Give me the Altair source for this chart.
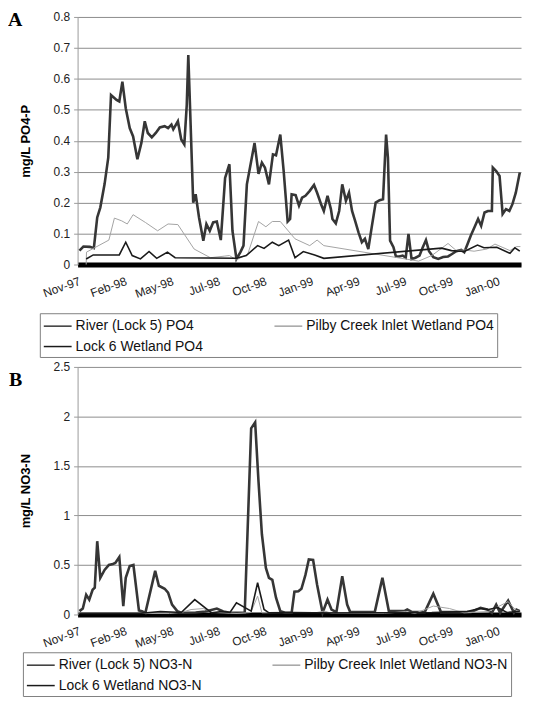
import json
import altair as alt
import pandas as pd

# ---- axis categories (sample positions; a label every ~15.2 samples) ----
x_labels = ["Nov-97", "Feb-98", "May-98", "Jul-98", "Oct-98",
            "Jan-99", "Apr-99", "Jul-99", "Oct-99", "Jan-00"]
label_step = 15.2
x_max = 144.6

# ---- Panel A : PO4-P (mg/L)  (sample position, value) ----
a_names = ["River (Lock 5) PO4", "Pilby Creek Inlet Wetland PO4", "Lock 6 Wetland PO4"]
a_river = [(0.6,0.045),(1.9,0.058),(4.0,0.057),(5.3,0.053),(6.4,0.152),(7.4,0.184),(8.8,0.26),
           (10.0,0.345),(10.9,0.548),(12.7,0.532),(13.6,0.527),(14.6,0.591),(15.7,0.505),(17.0,0.441),
           (18.1,0.414),(19.5,0.34),(20.8,0.393),(21.9,0.463),(22.9,0.425),(24.2,0.411),(25.5,0.425),
           (26.8,0.443),(28.4,0.447),(29.5,0.441),(30.6,0.452),(31.2,0.437),(32.7,0.463),(33.8,0.404),
           (34.8,0.388),(35.6,0.516),(36.1,0.677),(36.5,0.559),(37.7,0.2),(38.5,0.227),(39.6,0.152),
           (41.0,0.077),(42.0,0.131),(43.1,0.109),(44.2,0.136),(45.4,0.139),(46.7,0.079),(48.1,0.28),
           (49.5,0.324),(50.5,0.109),(51.8,0.018),(53.1,0.04),(54.1,0.061),(55.2,0.259),(56.6,0.334),
           (57.7,0.393),(59.0,0.293),(60.1,0.329),(61.1,0.313),(62.4,0.259),(63.7,0.356),(64.7,0.353),
           (66.1,0.42),(67.2,0.302),(68.5,0.139),(69.3,0.147),(69.8,0.227),(71.1,0.224),(72.2,0.19),
           (73.2,0.216),(74.3,0.222),(75.7,0.238),(77.1,0.257),(78.1,0.232),(79.4,0.195),(80.3,0.173),
           (81.5,0.222),(82.6,0.179),(83.1,0.147),(84.2,0.133),(85.3,0.173),(86.3,0.259),(87.5,0.206),
           (88.5,0.232),(89.5,0.173),(90.5,0.141),(91.6,0.104),(92.7,0.072),(93.7,0.083),(94.8,0.05),
           (95.9,0.12),(97.2,0.2),(98.5,0.208),(99.6,0.211),(100.6,0.42),(101.2,0.345),(101.9,0.077),
           (103.0,0.056),(103.8,0.026),(104.9,0.026),(106.0,0.029),(107.0,0.022),(107.9,0.099),
           (108.9,0.018),(110.2,0.022),(111.5,0.029),(112.5,0.054),(113.6,0.079),(114.6,0.043),
           (116.0,0.024),(117.6,0.018),(119.2,0.024),(120.8,0.026),(122.1,0.034),(123.5,0.043),
           (125.1,0.047),(126.1,0.04),(127.2,0.067),(128.2,0.093),(129.5,0.122),(130.6,0.147),
           (131.6,0.125),(132.7,0.168),(133.8,0.173),(135.1,0.173),(135.4,0.313),(136.5,0.302),
           (137.6,0.286),(138.6,0.163),(139.7,0.179),(140.8,0.173),(141.8,0.195),(142.9,0.232),
           (144.2,0.297)]
a_pilby = [(2.8,0.0),(2.9,0.04),(10.2,0.079),(12.0,0.15),(14.4,0.141),(16.2,0.131),(18.1,0.161),
           (22.1,0.136),(26.1,0.109),(29.5,0.131),(32.7,0.129),(38.0,0.05),(43.3,0.022),(47.8,0.027),
           (49.5,0.029),(51.8,0.015),(55.5,0.034),(59.0,0.139),(61.4,0.122),(63.5,0.139),(66.1,0.139),
           (70.9,0.083),(75.7,0.061),(78.1,0.079),(80.3,0.061),(111.2,0.011),(115.5,0.029),
           (120.8,0.068),(123.5,0.045),(126.1,0.047),(129.3,0.043),(133.5,0.05),(136.1,0.066),
           (141.0,0.045),(143.1,0.058),(144.4,0.058)]
a_lock6 = [(2.8,0.018),(5.1,0.031),(13.6,0.031),(15.7,0.072),(17.8,0.029),(20.5,0.018),(23.3,0.042),
           (25.8,0.02),(29.3,0.04),(31.8,0.022),(51.8,0.02),(55.0,0.029),(58.7,0.061),(60.8,0.052),
           (63.5,0.072),(65.6,0.061),(68.8,0.079),(70.9,0.022),(73.6,0.042),(77.3,0.031),(80.3,0.02),
           (118.7,0.053),(121.9,0.045),(126.1,0.042),(130.4,0.063),(132.5,0.054),(136.7,0.056),
           (141.0,0.036),(142.6,0.054),(144.2,0.043)]
a_yticks = [0, 0.1, 0.2, 0.3, 0.4, 0.5, 0.6, 0.7, 0.8]

# ---- Panel B : NO3-N (mg/L) ----
b_names = ["River (Lock 5) NO3-N", "Pilby Creek Inlet Wetland NO3-N", "Lock 6 Wetland NO3-N"]
b_river = [(0.6,0.034),(1.7,0.06),(2.8,0.20),(3.8,0.15),(4.9,0.25),(5.6,0.27),(6.4,0.74),(7.4,0.37),
           (8.8,0.45),(10.2,0.50),(11.5,0.51),(12.3,0.52),(13.6,0.58),(14.9,0.085),(15.7,0.37),
           (17.0,0.49),(18.2,0.50),(20.0,0.04),(21.0,0.034),(22.1,0.017),(25.3,0.44),(26.5,0.29),
           (28.4,0.26),(29.5,0.22),(30.8,0.10),(32.5,0.034),(33.8,0.017),(38.5,0.02),(41.7,0.03),
           (45.4,0.06),(47.5,0.03),(49.7,0.017),(54.5,0.017),(56.6,1.88),(57.9,1.94),(59.0,1.34),
           (60.1,0.81),(61.4,0.47),(62.4,0.37),(63.5,0.35),(64.7,0.17),(66.1,0.034),(67.7,0.017),
           (69.8,0.017),(70.7,0.23),(72.0,0.235),(73.0,0.26),(74.3,0.40),(75.4,0.555),(76.8,0.55),
           (78.1,0.30),(79.9,0.017),(81.5,0.15),(82.8,0.05),(84.4,0.024),(86.3,0.387),(87.9,0.10),
           (88.9,0.024),(96.9,0.024),(99.4,0.37),(101.5,0.034),(106.5,0.034),(107.5,0.05),
           (109.1,0.024),(113.2,0.024),(116.0,0.21),(118.5,0.024),(128.2,0.024),(131.4,0.067),
           (133.5,0.05),(135.1,0.017),(136.5,0.10),(137.8,0.017),(140.4,0.14),(142.3,0.017),
           (143.1,0.05),(144.2,0.034)]
b_pilby = [(0.6,0.01),(30.0,0.01),(33.8,0.02),(37.0,0.05),(41.0,0.06),(44.0,0.02),(52.0,0.01),
           (56.5,0.02),(58.7,0.185),(60.1,0.017),(70.0,0.02),(78.0,0.02),(80.5,0.035),(83.0,0.01),
           (100.0,0.01),(107.0,0.03),(110.0,0.01),(116.0,0.085),(121.3,0.06),(126.0,0.017),
           (134.0,0.03),(140.4,0.13),(143.0,0.04),(144.4,0.03)]
b_lock6 = [(0.6,0.01),(20.0,0.01),(27.0,0.03),(33.8,0.02),(38.2,0.15),(43.7,0.017),(47.0,0.03),
           (49.7,0.02),(51.8,0.118),(56.6,0.034),(58.7,0.32),(60.8,0.05),(62.4,0.017),(70.0,0.02),
           (84.0,0.015),(115.5,0.02),(127.0,0.03),(131.0,0.06),(134.0,0.05),(137.0,0.07),
           (140.0,0.02),(144.2,0.03)]
b_yticks = [0, 0.5, 1, 1.5, 2, 2.5]

colors = ["#363636", "#a3a3a3", "#1a1a1a"]
widths = [2.6, 1.0, 1.6]
FONT = "Liberation Sans"
PLOT_W, PLOT_H = 446, 249

tick_vals = [round(i * label_step, 2) for i in range(len(x_labels))]
label_expr = json.dumps(x_labels) + "[round(datum.value / %s)]" % label_step


def frame(names, series):
    rows = []
    for k, (name, pts) in enumerate(zip(names, series)):
        for i, (x, y) in enumerate(pts):
            rows.append({"series": name, "x": x, "y": y, "i": i, "w": widths[k]})
    return pd.DataFrame(rows)


def panel(df, names, yticks, ymax, ytitle, letter, leg_x, leg_y, letter_x, letter_y):
    x = alt.X("x:Q", scale=alt.Scale(domain=[0, x_max], nice=False, zero=False),
              axis=alt.Axis(values=tick_vals, labelExpr=label_expr, title=None, grid=False,
                            ticks=False, labelAngle=340, labelAlign="right", labelBaseline="top",
                            labelPadding=11, labelFontSize=12, labelFont=FONT, labelColor="#222",
                            domainColor="#000", domainWidth=5, labelOverlap=False,
                            labelFlush=False))
    y = alt.Y("y:Q", scale=alt.Scale(domain=[0, ymax], nice=False),
              axis=alt.Axis(values=yticks, format="~g", title=ytitle, grid=True,
                            gridColor="#8c8c8c", gridWidth=1, domainColor="#9a9a9a",
                            tickColor="#9a9a9a", tickSize=4, labelFontSize=12, labelFont=FONT,
                            labelColor="#222", labelPadding=4, titleFont=FONT, titleFontSize=13,
                            titleFontWeight="bold", titleColor="#000", titlePadding=21))
    lines = alt.Chart(df).mark_line(interpolate="linear").encode(
        x=x, y=y,
        color=alt.Color("series:N", scale=alt.Scale(domain=names, range=colors),
                        legend=alt.Legend(title=None, orient="none", legendX=leg_x, legendY=leg_y,
                                          direction="horizontal", columns=2,
                                          symbolType="M-1,0H2.11", symbolSize=324,
                                          symbolStrokeWidth=1.5, symbolOffset=0, labelOffset=13,
                                          labelFontSize=14, labelFont=FONT, labelColor="#111",
                                          labelLimit=400, strokeColor="#808080", padding=3,
                                          columnPadding=68, rowPadding=3.5)),
        strokeWidth=alt.StrokeWidth("w:Q", scale=None),
        order="i:Q",
    )
    mark_letter = alt.Chart(pd.DataFrame({"t": [letter]})).mark_text(
        font="Liberation Serif", fontWeight="bold", fontSize=20, align="left",
        baseline="top", color="#000").encode(
        text="t:N", x=alt.value(letter_x), y=alt.value(letter_y))
    return alt.layer(lines, mark_letter).properties(width=PLOT_W, height=PLOT_H)


pa = panel(frame(a_names, [a_river, a_pilby, a_lock6]), a_names, a_yticks, 0.8,
           "mg/L PO4-P", "A", -38, 298, -70, -7)
pb = panel(frame(b_names, [b_river, b_pilby, b_lock6]), b_names, b_yticks, 2.5,
           "mg/L NO3-N", "B", -55, 287, -69, 3)

chart = alt.vconcat(pa, pb, spacing=3).resolve_scale(
    color="independent", x="independent", y="independent"
).properties(padding={"left": 0, "top": 0, "right": 0, "bottom": 0}).configure_view(stroke=None)

chart.save("out.html", embed_options={"renderer": "svg", "actions": False})
